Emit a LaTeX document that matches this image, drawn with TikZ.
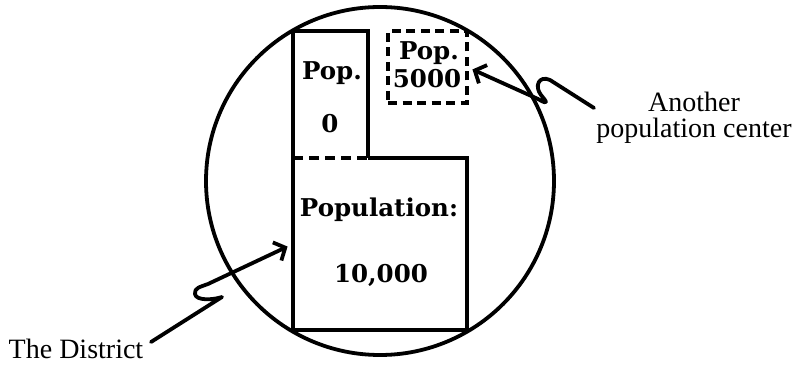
\documentclass[tikz,border=0pt]{standalone}
\usepackage{fontspec}
\setmainfont{Liberation Serif}
\newfontfamily\popfont{DejaVu Serif}
\usetikzlibrary{positioning,arrows.meta,calc}

\begin{document}
\begin{tikzpicture}[x=1pt,y=-1pt,
    line/.style={line width=3.8pt},
    region/.style={inner sep=0pt,outer sep=0pt},
    pop/.style={font=\popfont\bfseries\fontsize{24.5}{26}\selectfont,anchor=base},
    lab/.style={font=\fontsize{28}{26}\selectfont,align=center},
    arr/.style={line width=3.8pt,line cap=round,line join=round,-{Straight Barb[length=9pt,width=20pt]},shorten >=6pt}
  ]
    \useasboundingbox (0,0) rectangle (804,366);
    \node[draw,line,circle,region,minimum size=348pt] (area) at (380,181) {};
    % the district: old part on top, big part below
    \node[region,minimum width=75pt,minimum height=127pt] (old) at (330.5,94.5) {};
    \node[region,minimum width=174pt,minimum height=172pt] (big) at (380,244) {};
    \draw[line,line join=miter] (old.south east) -- (old.north east) -- (old.north west) -- (big.south west) -- (big.south east) -- (big.north east) -- (old.south east);
    \draw[line,dash pattern=on 10pt off 6pt] (old.south west) -- (old.south east);
    \node[draw,line,region,dash pattern=on 9pt off 5.5pt,minimum width=79pt,minimum height=72pt] (town) at (427.5,67) {};
    \node[pop] (oldpop) at (332,80) {Pop.};
    \node[pop] (oldnum) at (330,133) {0};
    \node[pop] (bigpop) at (379,217) {Population:};
    \node[pop] (bignum) at (381,283) {10,000};
    \node[pop] (townpop) at (429,60) {Pop.};
    \node[pop] (townnum) at (427,88) {5000};
    % labels
    \node[lab,anchor=base] (district) at (76,359) {The District};
    \node[lab] (center) at (694,118) {Another\\population center};
    \coordinate (dstart) at (151,342);
    \coordinate (tstart) at (594,108);
    \draw[arr] (dstart) -- (222,297) .. controls (213,300) and (196,301) .. (195,294) .. controls (194,288) and (200,287) .. (208,284) -- (big.west);
    \draw[arr] (tstart) -- (550,80) .. controls (539,75) and (534,86) .. (541,95) .. controls (546,101) and (550,106) .. (538,99) -- (town.east);
\end{tikzpicture}
\end{document}
